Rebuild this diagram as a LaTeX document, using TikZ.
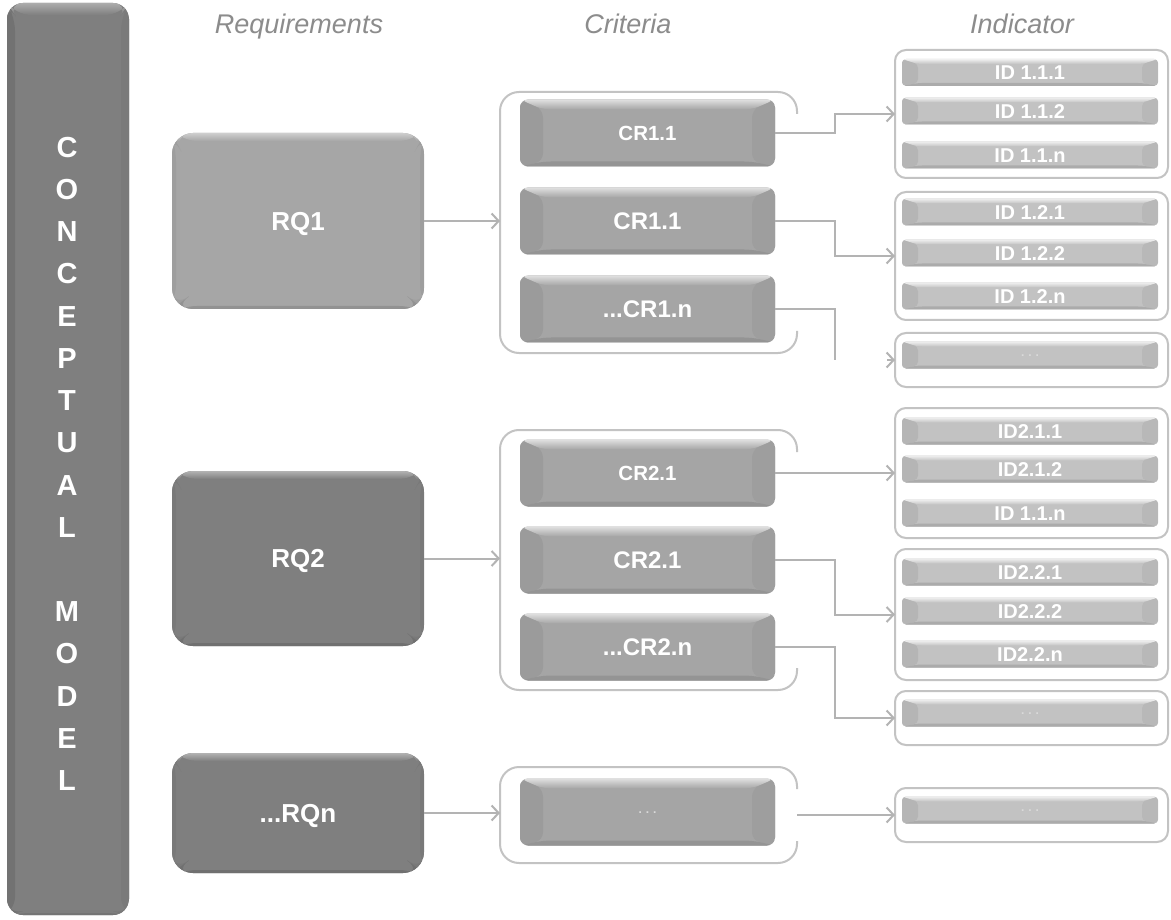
\documentclass[tikz,border=0pt]{standalone}
\usepackage{fontspec}
\setmainfont{Liberation Sans}
\setsansfont{Liberation Sans}
\usetikzlibrary{arrows.meta,calc}

\definecolor{barfill}{HTML}{7F7F7F}
\definecolor{rqlight}{HTML}{A6A6A6}
\definecolor{rqdark}{HTML}{7F7F7F}
\definecolor{crfill}{HTML}{A5A5A5}
\definecolor{idfill}{HTML}{C2C2C2}
\definecolor{frameline}{HTML}{C3C3C3}
\definecolor{wire}{HTML}{B3B3B3}
\definecolor{headtext}{HTML}{8C8C8C}
\definecolor{dots}{HTML}{DADADA}

% bevelled faces drawn inside a node: side width, top depth, bottom depth,
% top shading, left colour, right colour, bottom colour
\newcommand{\facets}[7]{%
  \path (path picture bounding box.north west) coordinate (pNW)
        (path picture bounding box.north east) coordinate (pNE)
        (path picture bounding box.south west) coordinate (pSW)
        (path picture bounding box.south east) coordinate (pSE);
  \path ([xshift=#1,yshift=-#2]pNW) coordinate (iNW)
        ([xshift=-#1,yshift=-#2]pNE) coordinate (iNE)
        ([xshift=#1,yshift=#3]pSW) coordinate (iSW)
        ([xshift=-#1,yshift=#3]pSE) coordinate (iSE);
  \fill[#5] (pNW) -- (iNW) -- (iSW) -- (pSW) -- cycle;
  \fill[#6] (pNE) -- (pSE) -- (iSE) -- (iNE) -- cycle;
  \fill[#7] (pSW) -- (iSW) -- (iSE) -- (pSE) -- cycle;
  \shade[#4] (pNW) -- (pNE) -- (iNE) -- (iNW) -- cycle;
}

\tikzset{
  barbox/.style={rounded corners=16pt, fill=barfill, minimum width=122pt,
    minimum height=912pt, inner sep=0pt, outer sep=0pt,
    path picture={\facets{8pt}{12pt}{2pt}{top color=barfill!65!white,bottom color=barfill}{barfill!90!black}{barfill!96!black}{barfill!92!black}}},
  barletter/.style={text=white, font=\bfseries\fontsize{29}{29}\selectfont,
    inner sep=0pt, text height=20.8pt, text depth=0pt},
  head/.style={text=headtext, font=\itshape\fontsize{27}{27}\selectfont,
    inner sep=0pt, text height=19.3pt, text depth=0pt},
  rqbox/.style={rounded corners=21pt, minimum width=252pt, inner sep=0pt,
    outer sep=0pt, text=white, font=\bfseries\fontsize{26}{26}\selectfont,
    text height=18.6pt, text depth=0pt},
  rqa/.style={rqbox, fill=rqlight, minimum height=176pt,
    path picture={\facets{4pt}{8pt}{3pt}{top color=rqlight!55!white,bottom color=rqlight}{rqlight!95!black}{rqlight!95!black}{rqlight!88!black}}},
  rqb/.style={rqbox, fill=rqdark,
    path picture={\facets{4pt}{8pt}{3pt}{top color=rqdark!60!white,bottom color=rqdark}{rqdark!95!black}{rqdark!95!black}{rqdark!88!black}}},
  crbox/.style={rounded corners=8pt, fill=crfill, minimum width=255pt,
    minimum height=67pt, inner sep=0pt, outer sep=0pt, text=white,
    font=\bfseries\fontsize{24}{24}\selectfont, text height=17.2pt, text depth=0pt,
    path picture={\facets{23pt}{10pt}{5pt}{top color=crfill!35!white,bottom color=crfill}{crfill!94!black}{crfill!96!black}{crfill!90!black}}},
  crsmall/.style={font=\bfseries\fontsize{20.5}{20.5}\selectfont, text height=14.7pt},
  idbox/.style={rounded corners=4pt, fill=idfill, minimum width=256pt,
    minimum height=27pt, inner sep=0pt, outer sep=0pt, text=white,
    font=\bfseries\fontsize{20}{20}\selectfont, text height=14.3pt, text depth=0pt,
    path picture={\facets{16pt}{5pt}{3pt}{top color=idfill!25!white,bottom color=idfill}{idfill!93!black}{idfill!95!black}{idfill!88!black}}},
  dotlabel/.style={text=dots, font=\bfseries\fontsize{12}{12}\selectfont,
    text height=3pt},
  igroup/.style={draw=frameline, line width=2pt, rounded corners=11pt,
    inner sep=0pt, outer sep=0pt},
  cgroup/.style={inner sep=0pt, outer sep=0pt},
  bracket/.style={draw=frameline, line width=2pt, rounded corners=19pt},
  wire/.style={draw=wire, line width=2pt,
    -{Straight Barb[length=7pt,width=15pt,line width=2pt]}},
  plainwire/.style={draw=wire, line width=2pt},
}

\begin{document}
\begin{tikzpicture}[x=1pt, y=-1pt]
\useasboundingbox[fill=white] (0,0) rectangle (1171,920);

% ---- left column bar -------------------------------------------------
\node[barbox] (bar) at (68,459) {};
\foreach \ch [count=\i from 0] in {C,O,N,C,E,P,T,U,A,L}
  \node[barletter] (lc\i) at (67,147+42.2*\i) {\ch};
\foreach \ch [count=\i from 11] in {M,O,D,E,L}
  \node[barletter] (lm\i) at (67,147+42.2*\i) {\ch};

% ---- column headings -------------------------------------------------
\node[head] (hreq) at (299,24) {Requirements};
\node[head] (hcri) at (628,24) {Criteria};
\node[head] (hind) at (1022,24) {Indicator};

% ---- requirements ----------------------------------------------------
\node[rqa] (RQ1) at (298,221) {RQ1};
\node[rqb, minimum height=175pt] (RQ2) at (298,558.5) {RQ2};
\node[rqb, minimum height=120pt] (RQn) at (298,813) {...RQn};

% ---- criteria groups -------------------------------------------------
\node[cgroup, minimum width=297pt, minimum height=261pt] (G1) at (648.5,222.5) {};
\node[cgroup, minimum width=297pt, minimum height=260pt] (G2) at (648.5,560) {};
\node[cgroup, minimum width=297pt, minimum height=96pt] (G3) at (648.5,815) {};
\foreach \g in {G1,G2,G3}
  \draw[bracket] ([yshift=-22pt]\g.north east) -- (\g.north east)
    -- (\g.north west) -- (\g.south west) -- (\g.south east)
    -- ([yshift=22pt]\g.south east);

\node[crbox, crsmall] (CR1a) at (647.5,133) {CR1.1};
\node[crbox] (CR1b) at (647.5,221) {CR1.1};
\node[crbox] (CR1c) at (647.5,309) {...CR1.n};
\node[crbox, crsmall] (CR2a) at (647.5,473) {CR2.1};
\node[crbox] (CR2b) at (647.5,560) {CR2.1};
\node[crbox] (CR2c) at (647.5,647) {...CR2.n};
\node[crbox, dotlabel] (CR3a) at (647.5,812) {.\,\,.\,\,.};

% ---- indicator groups ------------------------------------------------
\node[igroup, minimum width=273pt, minimum height=128pt] (I1) at (1031.5,114) {};
\node[igroup, minimum width=273pt, minimum height=128pt] (I2) at (1031.5,256) {};
\node[igroup, minimum width=273pt, minimum height=54pt]  (I3) at (1031.5,360) {};
\node[igroup, minimum width=273pt, minimum height=130pt] (I4) at (1031.5,473) {};
\node[igroup, minimum width=273pt, minimum height=131pt] (I5) at (1031.5,614.5) {};
\node[igroup, minimum width=273pt, minimum height=54pt]  (I6) at (1031.5,718) {};
\node[igroup, minimum width=273pt, minimum height=54pt]  (I7) at (1031.5,815) {};

\node[idbox] (id111) at (1030,72.5) {ID 1.1.1};
\node[idbox] (id112) at (1030,111)  {ID 1.1.2};
\node[idbox] (id11n) at (1030,155)  {ID 1.1.n};
\node[idbox] (id121) at (1030,212)  {ID 1.2.1};
\node[idbox] (id122) at (1030,253)  {ID 1.2.2};
\node[idbox] (id12n) at (1030,296)  {ID 1.2.n};
\node[idbox, dotlabel] (id13) at (1030,355) {.\,\,.\,\,.};
\node[idbox] (id211) at (1030,431)  {ID2.1.1};
\node[idbox] (id212) at (1030,469)  {ID2.1.2};
\node[idbox] (id21n) at (1030,513)  {ID 1.1.n};
\node[idbox] (id221) at (1030,572)  {ID2.2.1};
\node[idbox] (id222) at (1030,611)  {ID2.2.2};
\node[idbox] (id22n) at (1030,654)  {ID2.2.n};
\node[idbox, dotlabel] (id23) at (1030,713) {.\,\,.\,\,.};
\node[idbox, dotlabel] (id3) at (1030,810) {.\,\,.\,\,.};

% ---- connectors ------------------------------------------------------
\draw[wire] (RQ1.east) -- (RQ1.east -| G1.west);
\draw[wire] (RQ2.east) -- (RQ2.east -| G2.west);
\draw[wire] (RQn.east) -- (RQn.east -| G3.west);

\draw[wire] (CR1a.east) -- ++(60,0) |- (I1.west);
\draw[wire] (CR1b.east) -- ++(60,0) |- (I2.west);
\draw[plainwire] (CR1c.east) -- ++(60,0) -- ++(0,51) coordinate (c1end);
\draw[wire] ([xshift=-8pt]I3.west) -- (I3.west);
\draw[wire] (CR2a.east) -- (I4.west);
\draw[wire] (CR2b.east) -- ++(60,0) |- (I5.west);
\draw[wire] (CR2c.east) -- ++(60,0) |- (I6.west);
\draw[wire] (G3.east) -- (I7.west);
\end{tikzpicture}
\end{document}
